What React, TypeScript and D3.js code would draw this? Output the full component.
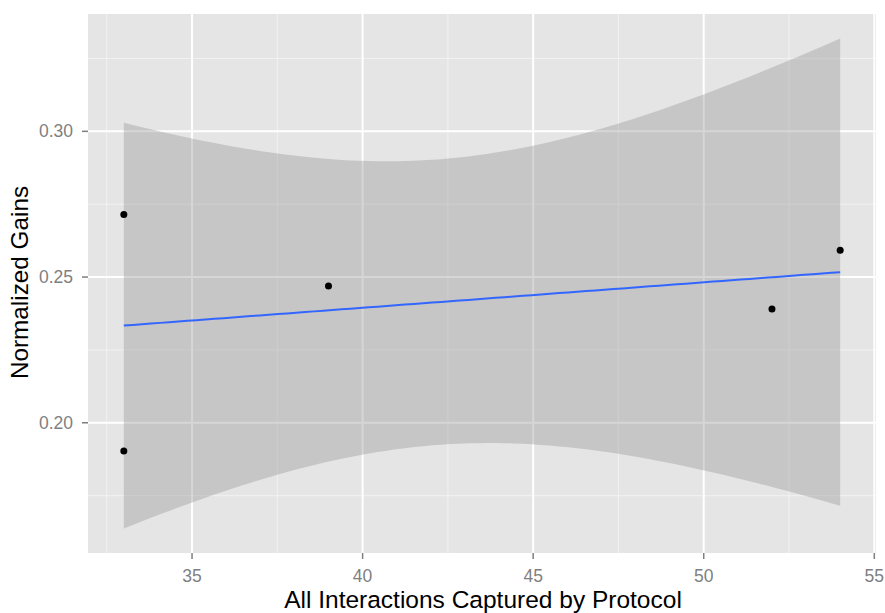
import React from "react";
import * as d3 from "d3";

const xValues = [33, 33, 39, 52, 54];
const yValues = [0.2715, 0.1903, 0.2469, 0.239, 0.2592];
const xTicks = [35, 40, 45, 50, 55];
const yTicks = [0.2, 0.25, 0.3];
const xMinor = [32.5, 37.5, 42.5, 47.5, 52.5];
const yMinor = [0.175, 0.225, 0.275, 0.325];
const xTitle = "All Interactions Captured by Protocol";
const yTitle = "Normalized Gains";
const T_975_DF3 = 3.182446;

const W = 885, H = 613;
const L = 88, R = 876, T = 14, B = 553;

function fitLm() {
  const n = xValues.length;
  const mx = d3.mean(xValues) as number;
  const my = d3.mean(yValues) as number;
  let sxx = 0, sxy = 0;
  for (let i = 0; i < n; i++) {
    sxx += (xValues[i] - mx) ** 2;
    sxy += (xValues[i] - mx) * (yValues[i] - my);
  }
  const b = sxy / sxx;
  const a = my - b * mx;
  let sse = 0;
  for (let i = 0; i < n; i++) sse += (yValues[i] - (a + b * xValues[i])) ** 2;
  const s = Math.sqrt(sse / (n - 2));
  const [x0, x1] = d3.extent(xValues) as [number, number];
  const pts = d3.range(80).map((i) => {
    const x = x0 + ((x1 - x0) * i) / 79;
    const fit = a + b * x;
    const se = s * Math.sqrt(1 / n + (x - mx) ** 2 / sxx);
    return { x, fit, lo: fit - T_975_DF3 * se, hi: fit + T_975_DF3 * se };
  });
  return pts;
}

export default function App() {
  const pts = fitLm();
  const [x0, x1] = d3.extent(xValues) as [number, number];
  const xs = (x1 - x0) * 0.05;
  const yMin = Math.min(d3.min(pts, (p) => p.lo) as number, d3.min(yValues) as number);
  const yMax = Math.max(d3.max(pts, (p) => p.hi) as number, d3.max(yValues) as number);
  const ys = (yMax - yMin) * 0.05;
  const x = d3.scaleLinear().domain([x0 - xs, x1 + xs]).range([L, R]);
  const y = d3.scaleLinear().domain([yMin - ys, yMax + ys]).range([B, T]);

  const area = d3
    .area<{ x: number; lo: number; hi: number }>()
    .x((d) => x(d.x))
    .y0((d) => y(d.lo))
    .y1((d) => y(d.hi));
  const line = d3
    .line<{ x: number; fit: number }>()
    .x((d) => x(d.x))
    .y((d) => y(d.fit));

  const font = "'Liberation Sans', Arial, Helvetica, sans-serif";

  return (
    <svg
      width={W}
      height={H}
      style={{ position: "absolute", left: 0, top: 0, background: "#fff" }}
      fontFamily={font}
    >
      <rect x={L} y={T} width={R - L} height={B - T} fill="#E5E5E5" />
      {xMinor.map((v) => (
        <line key={"xm" + v} x1={x(v)} x2={x(v)} y1={T} y2={B} stroke="#F2F2F2" strokeWidth={1} />
      ))}
      {yMinor.map((v) => (
        <line key={"ym" + v} x1={L} x2={R} y1={y(v)} y2={y(v)} stroke="#F2F2F2" strokeWidth={1} />
      ))}
      {xTicks.map((v) => (
        <line key={"xg" + v} x1={x(v)} x2={x(v)} y1={T} y2={B} stroke="#FFFFFF" strokeWidth={2} />
      ))}
      {yTicks.map((v) => (
        <line key={"yg" + v} x1={L} x2={R} y1={y(v)} y2={y(v)} stroke="#FFFFFF" strokeWidth={2} />
      ))}
      <path d={area(pts) || ""} fill="#999999" fillOpacity={0.4} />
      <path d={line(pts) || ""} fill="none" stroke="#3366FF" strokeWidth={2} />
      {xValues.map((v, i) => (
        <circle key={"p" + i} cx={x(v)} cy={y(yValues[i])} r={3.5} fill="#000" />
      ))}
      {xTicks.map((v) => (
        <g key={"xt" + v}>
          <line x1={x(v)} x2={x(v)} y1={B} y2={B + 6} stroke="#7F7F7F" strokeWidth={1.5} />
          <text x={x(v)} y={582} textAnchor="middle" fontSize={17.5} fill="#7F7F7F">
            {v}
          </text>
        </g>
      ))}
      {yTicks.map((v) => (
        <g key={"yt" + v}>
          <line x1={L - 6} x2={L} y1={y(v)} y2={y(v)} stroke="#7F7F7F" strokeWidth={1.5} />
          <text x={73} y={y(v)} dy="0.35em" textAnchor="end" fontSize={17.5} fill="#7F7F7F">
            {d3.format(".2f")(v)}
          </text>
        </g>
      ))}
      <text x={483} y={608} textAnchor="middle" fontSize={24.5} fill="#000">
        {xTitle}
      </text>
      <text
        transform={`translate(28,${282.5}) rotate(-90)`}
        textAnchor="middle"
        fontSize={24.3}
        fill="#000"
      >
        {yTitle}
      </text>
    </svg>
  );
}
